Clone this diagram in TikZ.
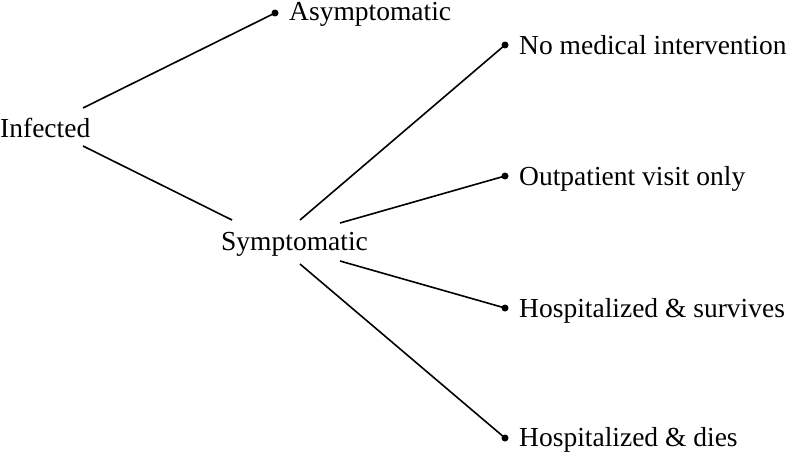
\documentclass[tikz,border=0pt]{standalone}
\usepackage{fontspec}
\setmainfont{Liberation Serif}
\begin{document}
\begin{tikzpicture}[x=1pt,y=-1pt,
  lbl/.style={inner sep=0pt,anchor=base west,font=\fontsize{27.5}{33}\selectfont},
  dotnode/.style={circle,fill=black,inner sep=0pt,minimum size=7pt},
  conn/.style={line width=1.6pt}]
\useasboundingbox (0,0) rectangle (787,452);
% texts
\node[lbl] (inf) at (0,137) {Infected};
\node[lbl] (sym) at (221,250) {Symptomatic};
\node[lbl] (asy) at (289,21) {Asymptomatic};
\node[lbl] (nmi) at (519,55) {No medical intervention};
\node[lbl] (out) at (519,185) {Outpatient visit only};
\node[lbl] (hsv) at (519,317) {Hospitalized \& survives};
\node[lbl] (hdi) at (519,446) {Hospitalized \& dies};
% dots
\node[dotnode] (dasy) at (275,13) {};
\node[dotnode] (dnmi) at (505,45) {};
\node[dotnode] (dout) at (505,176) {};
\node[dotnode] (dhsv) at (505,308) {};
\node[dotnode] (dhdi) at (505,438) {};
% line ends near texts
\coordinate (infU) at (83,108);
\coordinate (infD) at (83,146);
\coordinate (symL) at (232,220);
\coordinate (symA) at (300,220);
\coordinate (symB) at (340,223);
\coordinate (symC) at (340,261);
\coordinate (symD) at (300,264);
% connectors
\draw[conn] (infU) -- (dasy.center);
\draw[conn] (infD) -- (symL);
\draw[conn] (symA) -- (dnmi.center);
\draw[conn] (symB) -- (dout.center);
\draw[conn] (symC) -- (dhsv.center);
\draw[conn] (symD) -- (dhdi.center);
\end{tikzpicture}
\end{document}
